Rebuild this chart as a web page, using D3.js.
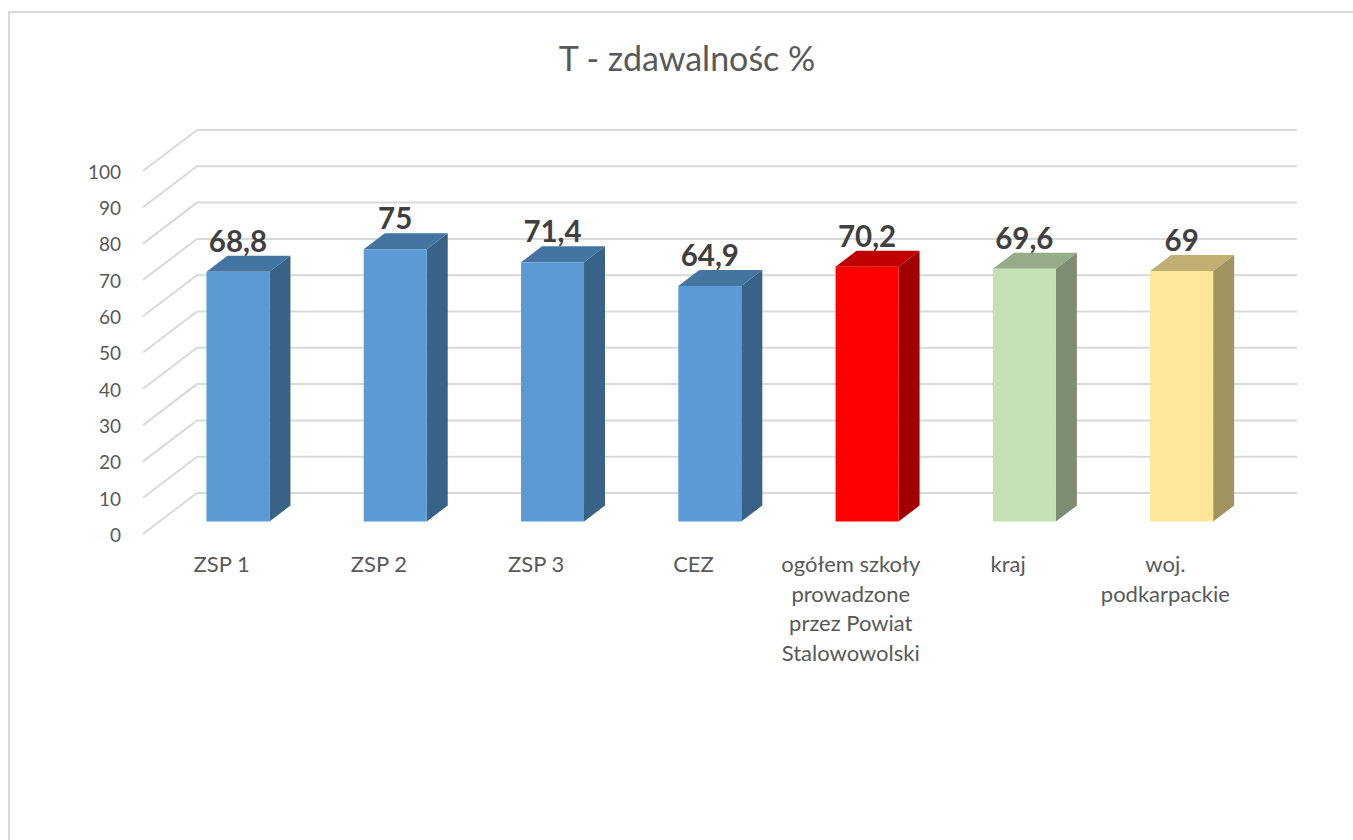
<!DOCTYPE html>
<html>
<head>
<meta charset="utf-8">
<script src="https://cdn.jsdelivr.net/npm/d3@7"></script>
<style>
  html, body { margin: 0; padding: 0; background: #fff; }
  svg { display: block; }
  text { font-family: Lato, sans-serif; }
</style>
</head>
<body>
<div id="chart"></div>
<script>
var categories = ["ZSP 1", "ZSP 2", "ZSP 3", "CEZ", "ogółem szkoły prowadzone przez Powiat Stalowowolski", "kraj", "woj. podkarpackie"];
var categoryLines = [["ZSP 1"], ["ZSP 2"], ["ZSP 3"], ["CEZ"], ["ogółem szkoły", "prowadzone", "przez Powiat", "Stalowowolski"], ["kraj"], ["woj.", "podkarpackie"]];
var values = [68.8, 75, 71.4, 64.9, 70.2, 69.6, 69];
var valueLabels = ["68,8", "75", "71,4", "64,9", "70,2", "69,6", "69"];
var frontColors = ["#5b9bd5", "#5b9bd5", "#5b9bd5", "#5b9bd5", "#ff0000", "#c5e0b4", "#ffe699"];
var topColors = ["#4475a1", "#4475a1", "#4475a1", "#4475a1", "#c00000", "#96ab88", "#c2af74"];
var sideColors = ["#386387", "#386387", "#386387", "#386387", "#a10000", "#7d8d71", "#a19360"];
var yTicks = [0, 10, 20, 30, 40, 50, 60, 70, 80, 90, 100];

var width = 1353, height = 840;
var svg = d3.select("#chart").append("svg").attr("width", width).attr("height", height);

// chart frame, only top and left edge are in the picture
svg.append("path")
  .attr("d", "M9," + height + "V12H" + width)
  .attr("fill", "none").attr("stroke", "#d9d9d9").attr("stroke-width", 2);

svg.append("text")
  .attr("x", 687).attr("y", 71)
  .attr("text-anchor", "middle")
  .attr("font-size", 34)
  .attr("fill", "#595959")
  .text("T - zdawalnośc %");

// front plane of the 3d box
var y = d3.scaleLinear().domain([0, 100]).range([534, 171]);
var x = d3.scaleBand().domain(categories).range([143, 1244]).paddingInner(0);

// depth offsets, the floor goes back by wall*, the bars stand in the middle of it
var wallX = 54, wallY = 41;
var barShiftX = 16.3, barShiftY = 12.5;
var depthX = 21, depthY = 16;
var barWidth = 63;

var grid = svg.append("g").attr("fill", "none").attr("stroke", "#d9d9d9").attr("stroke-width", 2);
grid.selectAll("path").data(yTicks).enter().append("path")
  .attr("d", function (d) {
    return "M" + x.range()[0] + "," + y(d) + "L" + (x.range()[0] + wallX) + "," + (y(d) - wallY) + "H1297";
  });

// y axis, only labels
var axisY = d3.axisLeft(y).tickValues(yTicks).tickSize(0).tickPadding(0);
var gy = svg.append("g").attr("transform", "translate(121,0.5)").call(axisY);
gy.select(".domain").remove();
gy.selectAll("text").attr("font-size", 19).attr("fill", "#595959").attr("dy", "0.36em").style("font-family", "Lato, sans-serif");

var bars = svg.append("g").selectAll("g").data(categories).enter().append("g");

function left(i) { return x(categories[i]) + x.bandwidth() / 2 + barShiftX - barWidth / 2; }
function topY(i) { return y(values[i]) - barShiftY; }
var baseY = y(0) - barShiftY;

bars.append("path")
  .attr("fill", function (d, i) { return topColors[i]; })
  .attr("d", function (d, i) {
    var l = left(i), t = topY(i);
    return "M" + l + "," + t + "l" + depthX + "," + (-depthY) + "h" + barWidth + "l" + (-depthX) + "," + depthY + "z";
  });

bars.append("path")
  .attr("fill", function (d, i) { return sideColors[i]; })
  .attr("d", function (d, i) {
    var r = left(i) + barWidth, t = topY(i);
    return "M" + r + "," + t + "l" + depthX + "," + (-depthY) + "V" + (baseY - depthY) + "l" + (-depthX) + "," + depthY + "z";
  });

bars.append("rect")
  .attr("x", function (d, i) { return left(i); })
  .attr("y", function (d, i) { return topY(i); })
  .attr("width", barWidth)
  .attr("height", function (d, i) { return baseY - topY(i); })
  .attr("fill", function (d, i) { return frontColors[i]; });

bars.append("text")
  .attr("x", function (d, i) { return left(i) + barWidth / 2; })
  .attr("y", function (d, i) { return topY(i) - depthY - 4; })
  .attr("text-anchor", "middle")
  .attr("font-size", 29.5)
  .attr("font-weight", 700)
  .attr("fill", "#404040")
  .text(function (d, i) { return valueLabels[i]; });

var labels = svg.append("g").selectAll("text").data(categories).enter().append("text")
  .attr("text-anchor", "middle")
  .attr("font-size", 22)
  .attr("fill", "#595959")
  .attr("y", 572);

labels.selectAll("tspan")
  .data(function (d, i) { return categoryLines[i].map(function (s) { return { s: s, c: d }; }); })
  .enter().append("tspan")
  .attr("x", function (d) { return x(d.c) + x.bandwidth() / 2; })
  .attr("dy", function (d, i) { return i === 0 ? 0 : 29.5; })
  .text(function (d) { return d.s; });
</script>
</body>
</html>
